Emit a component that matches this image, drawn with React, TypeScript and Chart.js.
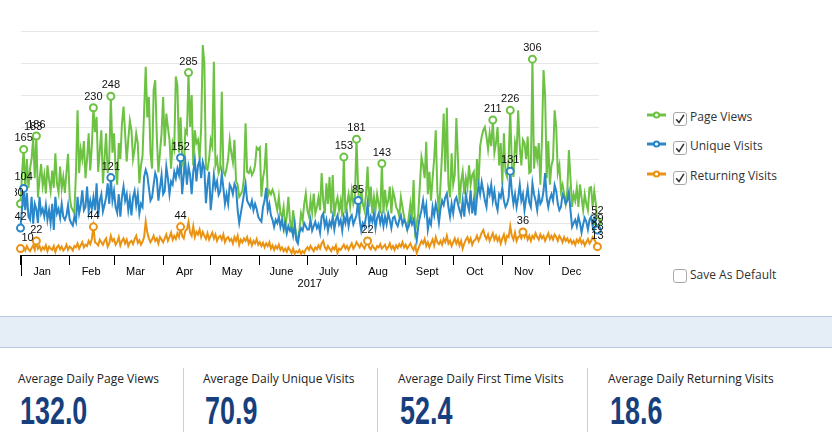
import React, { useEffect, useRef } from "react";
import { Chart, registerables } from "chart.js";

Chart.register(...registerables);

// ---------- data (daily values, 1 Jan 2017 .. 31 Dec 2017) ----------
const monthLabels = ["Jan", "Feb", "Mar", "Apr", "May", "June", "July", "Aug", "Sept", "Oct", "Nov", "Dec"];
const monthStarts = [0, 31, 59, 90, 120, 151, 181, 212, 243, 273, 304, 334];
const yearLabel = "2017";

const pageViews = [
  80, 128, 165, 102, 150, 105, 135,
  150, 183, 120, 186, 90, 118, 142,
  108, 125, 96, 140, 118, 100, 132,
  105, 159, 112, 98, 138, 104, 122,
  97, 130, 158, 91, 75, 70, 65,
  130, 226, 128, 165, 150, 178, 120,
  150, 190, 132, 170, 230, 192, 216,
  130, 162, 195, 112, 150, 190, 128,
  150, 248, 160, 190, 135, 110, 175,
  150, 205, 232, 190, 146, 180, 210,
  195, 150, 165, 190, 175, 112, 140,
  155, 225, 294, 215, 247, 160, 135,
  258, 273, 185, 129, 160, 190, 247,
  170, 221, 200, 180, 135, 175, 165,
  279, 265, 160, 215, 150, 135, 195,
  190, 285, 200, 250, 140, 195, 175,
  180, 150, 200, 328, 300, 135, 133,
  150, 180, 170, 302, 140, 150, 128,
  135, 255, 130, 125, 135, 150, 180,
  160, 145, 180, 115, 110, 91, 95,
  100, 120, 206, 130, 128, 135, 125,
  130, 140, 168, 165, 168, 91, 120,
  135, 175, 91, 100, 95, 102, 95,
  82, 70, 91, 65, 60, 75, 44,
  60, 91, 55, 35, 70, 49, 30,
  23, 40, 65, 55, 80, 96, 70,
  60, 86, 67, 96, 65, 75, 90,
  70, 128, 85, 65, 112, 80, 122,
  65, 125, 60, 80, 90, 70, 85,
  60, 153, 65, 80, 95, 75, 100,
  80, 90, 181, 107, 65, 102, 80,
  70, 95, 138, 75, 107, 65, 90,
  70, 95, 80, 65, 143, 65, 102,
  75, 85, 107, 65, 100, 90, 75,
  70, 60, 90, 75, 60, 50, 40,
  60, 80, 55, 117, 37, 50, 65,
  110, 153, 140, 120, 177, 95, 130,
  85, 120, 150, 195, 100, 65, 110,
  160, 221, 130, 230, 110, 90, 159,
  110, 125, 214, 150, 80, 115, 130,
  95, 120, 105, 140, 110, 125, 130,
  80, 150, 110, 170, 185, 195, 200,
  185, 165, 190, 170, 211, 160, 175,
  200, 140, 175, 110, 190, 130, 122,
  150, 226, 140, 122, 175, 160, 226,
  170, 140, 180, 175, 150, 185, 128,
  130, 306, 135, 170, 150, 175, 110,
  180, 289, 250, 120, 178, 110, 140,
  150, 226, 200, 128, 140, 100, 110,
  95, 80, 100, 164, 120, 75, 95,
  85, 105, 75, 110, 90, 70, 95,
  80, 70, 105, 106, 75, 100, 80,
  52,
];

const uniqueVisits = [
  42, 75, 104, 70, 97, 60, 55,
  91, 49, 80, 72, 50, 91, 65,
  72, 60, 78, 55, 70, 50, 80,
  39, 91, 65, 72, 58, 80, 60,
  55, 62, 78, 56, 50, 46, 60,
  52, 91, 65, 78, 101, 70, 75,
  107, 68, 85, 72, 90, 70, 112,
  60, 85, 95, 68, 78, 90, 112,
  80, 121, 85, 100, 75, 66, 95,
  60, 91, 107, 85, 95, 70, 88,
  62, 90, 100, 78, 95, 65, 80,
  75, 122, 133, 125, 105, 85, 90,
  110, 128, 120, 85, 105, 125, 95,
  100, 138, 120, 95, 115, 110, 130,
  120, 135, 125, 152, 95, 125, 144,
  110, 138, 125, 95, 130, 148, 115,
  140, 148, 120, 145, 135, 81, 110,
  130, 70, 95, 125, 105, 115, 94,
  100, 127, 105, 80, 95, 80, 110,
  105, 95, 111, 105, 70, 50, 65,
  80, 95, 111, 85, 80, 75, 85,
  70, 80, 72, 60, 55, 52, 75,
  85, 105, 70, 80, 62, 55, 44,
  55, 50, 60, 44, 55, 40, 50,
  34, 45, 38, 42, 30, 48, 23,
  18, 35, 42, 38, 50, 45, 40,
  40, 55, 38, 45, 52, 42, 48,
  35, 60, 65, 45, 55, 38, 52,
  45, 60, 40, 55, 62, 48, 55,
  38, 60, 50, 65, 45, 58, 62,
  48, 55, 62, 85, 55, 38, 50,
  45, 60, 80, 48, 60, 52, 65,
  42, 58, 65, 50, 62, 45, 60,
  48, 65, 55, 42, 58, 60, 50,
  45, 55, 62, 48, 55, 50, 40,
  45, 58, 48, 55, 38, 23, 45,
  60, 70, 85, 65, 78, 40, 55,
  48, 75, 62, 80, 68, 50, 72,
  85, 78, 90, 96, 75, 60, 80,
  65, 85, 90, 80, 70, 62, 85,
  60, 95, 80, 70, 101, 65, 85,
  62, 90, 110, 95, 114, 100, 85,
  75, 105, 95, 110, 85, 100, 80,
  70, 95, 90, 105, 85, 75, 80,
  90, 131, 100, 80, 95, 75, 90,
  110, 85, 95, 70, 88, 105, 82,
  75, 112, 95, 85, 70, 95, 80,
  85, 100, 128, 90, 75, 88, 95,
  85, 109, 100, 80, 70, 75, 95,
  90, 80, 85, 98, 70, 44, 50,
  55, 45, 60, 50, 35, 48, 58,
  52, 40, 55, 60, 45, 58, 50,
  39,
];

const returningVisits = [
  10, 8, 12, 7, 14, 9, 6,
  11, 15, 8, 22, 10, 14, 7,
  12, 9, 15, 6, 13, 10, 8,
  14, 5, 12, 15, 9, 13, 7,
  10, 16, 8, 13, 11, 7, 14,
  12, 18, 10, 15, 20, 12, 16,
  14, 22, 17, 25, 44, 20, 18,
  15, 24, 20, 16, 22, 26, 13,
  18, 30, 22, 25, 16, 20, 28,
  15, 22, 26, 18, 24, 14, 20,
  22, 17, 25, 30, 19, 23, 16,
  21, 28, 52, 35, 26, 20, 24,
  30, 22, 26, 18, 28, 24, 20,
  26, 32, 22, 28, 35, 24, 30,
  25, 34, 28, 44, 30, 26, 38,
  40, 52, 35, 30, 45, 28, 36,
  32, 40, 28, 36, 30, 25, 34,
  24, 30, 35, 26, 32, 22, 28,
  30, 24, 32, 20, 26, 28, 22,
  25, 18, 28, 22, 30, 16, 24,
  20, 26, 22, 28, 18, 24, 15,
  22, 18, 25, 16, 20, 14, 19,
  12, 18, 14, 20, 10, 15, 8,
  14, 10, 16, 8, 12, 6, 10,
  5, 12, 8, 3, 10, 2, 6,
  4, 8, 2, 6, 3, 9, 12,
  8, 14, 10, 6, 12, 9, 15,
  10, 18, 22, 12, 8, 14, 10,
  6, 12, 9, 15, 3, 10, 8,
  12, 16, 10, 14, 8, 13, 18,
  10, 14, 20, 16, 12, 18, 14,
  10, 16, 22, 12, 9, 15, 11,
  8, 14, 12, 17, 10, 13, 16,
  9, 12, 18, 10, 14, 8, 15,
  11, 17, 13, 20, 12, 16, 10,
  14, 18, 12, 8, 15, 3, 10,
  16, 22, 18, 25, 14, 20, 12,
  18, 24, 15, 28, 20, 17, 22,
  16, 25, 20, 30, 18, 22, 14,
  20, 26, 18, 24, 15, 22, 10,
  18, 24, 28, 20, 26, 16, 22,
  24, 30, 22, 28, 35, 39, 30,
  25, 32, 22, 28, 34, 24, 30,
  22, 28, 18, 26, 32, 20, 30,
  28, 45, 30, 24, 35, 22, 28,
  30, 26, 36, 28, 34, 24, 30,
  22, 30, 26, 34, 28, 24, 32,
  26, 30, 22, 28, 34, 25, 30,
  24, 32, 28, 22, 30, 26, 20,
  28, 22, 26, 20, 24, 18, 22,
  16, 24, 20, 26, 18, 22, 15,
  20, 25, 18, 22, 28, 24, 20,
  13,
];

// last-day value of first-time visits (only its label is shown)
const firstTimeLastValue = 28;

// days that carry a circle + value label
const pageViewMarks = [0, 2, 10, 46, 57, 106, 204, 212, 228, 298, 309, 323, 364];
const pageViewLabelOnly = [8];
const uniqueVisitMarks = [0, 2, 57, 101, 213, 309, 364];
const returningVisitMarks = [0, 10, 46, 101, 219, 317, 364];

const legendLabels = ["Page Views", "Unique Visits", "Returning Visits"];
const seriesColors = ["#6dc244", "#2a87c9", "#ea9313"];

const statLabels = [
  "Average Daily Page Views",
  "Average Daily Unique Visits",
  "Average Daily First Time Visits",
  "Average Daily Returning Visits",
];
const statValues = ["132.0", "70.9", "52.4", "18.6"];

// ---------- chart ----------
const series = [
  { label: legendLabels[0], data: pageViews, color: seriesColors[0], marks: pageViewMarks, labelOnly: pageViewLabelOnly },
  { label: legendLabels[1], data: uniqueVisits, color: seriesColors[1], marks: uniqueVisitMarks, labelOnly: [] as number[] },
  { label: legendLabels[2], data: returningVisits, color: seriesColors[2], marks: returningVisitMarks, labelOnly: [] as number[] },
];

const LABEL_FONT = '11px "Liberation Sans", Arial, Helvetica, sans-serif';

const labelPlugin = {
  id: "valueLabels",
  afterDatasetsDraw(chart: any) {
    const ctx = chart.ctx;
    const xs = chart.scales.x;
    const ys = chart.scales.y;
    ctx.save();
    ctx.font = LABEL_FONT;
    ctx.fillStyle = "#111";
    ctx.textAlign = "center";
    ctx.textBaseline = "middle";
    series.forEach((s, si) => {
      const idx = [...s.marks, ...s.labelOnly];
      idx.forEach((i) => {
        let dx = 0;
        if (i === 0 && si === 0) dx = -3;
        if (i === 0 && si === 2) dx = 7;
        const x = xs.getPixelForValue(i) + dx;
        const y = ys.getPixelForValue(s.data[i]) - 11;
        ctx.fillText(String(s.data[i]), x, y);
      });
    });
    const lastDay = pageViews.length - 1;
    ctx.fillText(String(firstTimeLastValue), xs.getPixelForValue(lastDay), ys.getPixelForValue(firstTimeLastValue) - 10);
    ctx.restore();
  },
  afterDraw(chart: any) {
    const ctx = chart.ctx;
    const xs = chart.scales.x;
    const x0 = Math.round(xs.getPixelForValue(monthStarts[0])) + 0.5;
    ctx.save();
    ctx.strokeStyle = "#000";
    ctx.lineWidth = 1;
    ctx.beginPath();
    ctx.moveTo(x0, chart.chartArea.bottom);
    ctx.lineTo(x0, chart.chartArea.bottom + 21);
    ctx.stroke();
    ctx.restore();
  },
};

function CheckBox({ checked, left, top }: { checked: boolean; left: number; top: number }) {
  return (
    <span
      style={{
        position: "absolute",
        left,
        top,
        width: 12,
        height: 12,
        border: "1px solid #a9a9a9",
        borderRadius: 3,
        background: "#fff",
        boxSizing: "content-box",
      }}
    >
      {checked && (
        <svg width="12" height="12" style={{ position: "absolute", left: 0, top: 0 }}>
          <path d="M2.6 6.8 L5 9.6 L9.6 2.4" fill="none" stroke="#333" strokeWidth="1.6" strokeLinecap="round" strokeLinejoin="round" />
        </svg>
      )}
    </span>
  );
}

export default function App() {
  const canvasRef = useRef<HTMLCanvasElement | null>(null);

  useEffect(() => {
    const canvas = canvasRef.current;
    if (!canvas) return;
    const chart = new Chart(canvas, {
      type: "line",
      data: {
        datasets: series.map((s, si) => ({
          label: s.label,
          data: s.data.map((v, i) => ({ x: i, y: v })),
          borderColor: s.color,
          backgroundColor: s.color,
          borderWidth: 2,
          tension: 0,
          fill: false,
          clip: false as any,
          order: 3 - si,
          pointRadius: (c: any) => (s.marks.includes(c.dataIndex) ? 3.5 : 0),
          pointHoverRadius: (c: any) => (s.marks.includes(c.dataIndex) ? 3.5 : 0),
          pointBackgroundColor: "#fff",
          pointBorderColor: s.color,
          pointBorderWidth: 2,
        })),
      },
      options: {
        responsive: false,
        animation: false,
        devicePixelRatio: 1,
        events: [],
        layout: { padding: { left: 5, right: 21, top: 31, bottom: 0 } },
        plugins: { legend: { display: false }, tooltip: { enabled: false } },
        scales: {
          x: {
            type: "linear",
            min: 0,
            max: 365,
            afterBuildTicks: (scale: any) => {
              scale.ticks = monthStarts.map((v) => ({ value: v }));
            },
            afterFit: (scale: any) => {
              scale.height = 45;
              scale.paddingLeft = 0;
              scale.paddingRight = 0;
            },
            grid: { display: true, drawOnChartArea: false, drawTicks: true, tickLength: 10, color: "#000", lineWidth: 1 },
            border: { display: true, color: "#000", width: 1 },
            ticks: {
              autoSkip: false,
              maxRotation: 0,
              padding: 0,
              labelOffset: 21.5,
              color: "#000",
              font: { family: '"Liberation Sans", Arial, Helvetica, sans-serif', size: 11 },
              callback: (_v: any, i: number) => monthLabels[i],
            },
            title: {
              display: true,
              text: yearLabel,
              color: "#000",
              font: { family: '"Liberation Sans", Arial, Helvetica, sans-serif', size: 11 },
              padding: { top: 0, bottom: 9 },
            },
          },
          y: {
            min: 0,
            max: 350,
            ticks: { display: false, stepSize: 50 },
            grid: { color: "#e7e7e7", drawTicks: false, lineWidth: 1 },
            border: { display: false },
            afterFit: (scale: any) => {
              scale.width = 0;
            },
          },
        },
      } as any,
      plugins: [labelPlugin],
    });
    return () => chart.destroy();
  }, []);

  const legendY = [117, 146, 176];
  const statX = [18, 203, 398, 608];
  const dividerX = [183, 377, 587];

  return (
    <div
      style={{
        position: "absolute",
        left: 0,
        top: 0,
        width: 832,
        height: 442,
        background: "#fff",
        overflow: "hidden",
        fontFamily: '"Open Sans", "DejaVu Sans", sans-serif',
      }}
    >
      <canvas ref={canvasRef} width={605} height={300} style={{ position: "absolute", left: 15, top: 0 }} />

      {legendLabels.map((lab, i) => (
        <React.Fragment key={lab}>
          <svg width="19" height="10" style={{ position: "absolute", left: 647, top: legendY[i] - 7 }}>
            <line x1="0" y1="5" x2="19" y2="5" stroke={seriesColors[i]} strokeWidth="3" />
            <circle cx="9.5" cy="5" r="2.6" fill="#fff" stroke={seriesColors[i]} strokeWidth="2" />
          </svg>
          <CheckBox checked={true} left={673} top={legendY[i] - 5} />
          <span
            style={{
              position: "absolute",
              left: 690,
              top: legendY[i] - 9,
              fontSize: 12,
              lineHeight: "18px",
              color: "#333",
              whiteSpace: "nowrap",
            }}
          >
            {lab}
          </span>
        </React.Fragment>
      ))}

      <CheckBox checked={false} left={673} top={269} />
      <span
        style={{ position: "absolute", left: 690, top: 266, fontSize: 12, lineHeight: "18px", color: "#333", whiteSpace: "nowrap" }}
      >
        Save As Default
      </span>

      <div
        style={{
          position: "absolute",
          left: 0,
          top: 316,
          width: 832,
          height: 32,
          boxSizing: "border-box",
          background: "#e5eef6",
          borderTop: "1px solid #b6c8dd",
          borderBottom: "1px solid #b6c8dd",
        }}
      />

      {dividerX.map((x) => (
        <div key={x} style={{ position: "absolute", left: x, top: 368, width: 1, height: 64, background: "#c3d1e1" }} />
      ))}

      {statLabels.map((lab, i) => (
        <React.Fragment key={lab}>
          <span
            style={{
              position: "absolute",
              left: statX[i],
              top: 371,
              fontSize: 12,
              lineHeight: "16px",
              color: "#222",
              whiteSpace: "nowrap",
            }}
          >
            {lab}
          </span>
          <span
            style={{
              position: "absolute",
              left: statX[i] + 2,
              top: 391,
              fontSize: 39,
              lineHeight: "39px",
              fontWeight: 700,
              color: "#173f7d",
              fontFamily: '"Liberation Sans", Arial, sans-serif',
              transform: "scaleX(0.69)",
              transformOrigin: "left top",
              whiteSpace: "nowrap",
            }}
          >
            {statValues[i]}
          </span>
        </React.Fragment>
      ))}
    </div>
  );
}
